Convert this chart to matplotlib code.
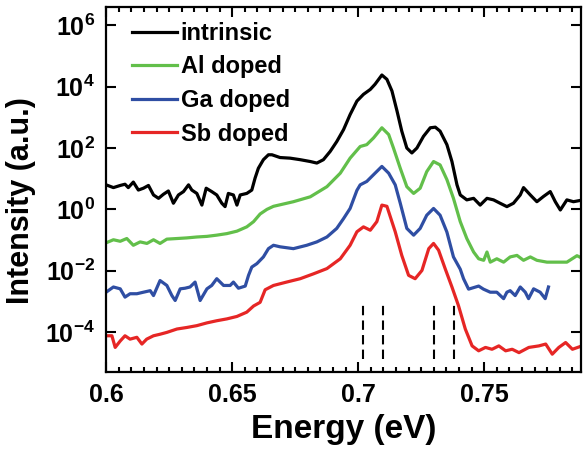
import numpy as np
import matplotlib
matplotlib.use("Agg")
import matplotlib.pyplot as plt
from matplotlib.ticker import FixedLocator, LogFormatterMathtext, MultipleLocator, NullLocator

plt.rcParams["font.family"] = ["Liberation Sans", "DejaVu Sans"]
plt.rcParams["font.weight"] = "bold"
plt.rcParams["mathtext.fontset"] = "custom"
plt.rcParams["mathtext.rm"] = "Liberation Sans:bold"
plt.rcParams["mathtext.bf"] = "Liberation Sans:bold"
plt.rcParams["mathtext.it"] = "Liberation Sans:bold"

# energies (eV) and log10 intensities
intrinsic_e = [0.6000, 0.6029, 0.6056, 0.6075, 0.6088, 0.6108, 0.6128, 0.6148, 0.6168, 0.6188,
               0.6208, 0.6227, 0.6247, 0.6267, 0.6287, 0.6307, 0.6327, 0.6340, 0.6360, 0.6380,
               0.6397, 0.6419, 0.6439, 0.6459, 0.6472, 0.6485, 0.6505, 0.6519, 0.6532, 0.6558,
               0.6578, 0.6591, 0.6604, 0.6624, 0.6644, 0.6658, 0.6690, 0.6730, 0.6770, 0.6810,
               0.6836, 0.6862, 0.6889, 0.6915, 0.6942, 0.6968, 0.6995, 0.7021, 0.7048, 0.7067,
               0.7094, 0.7114, 0.7134, 0.7154, 0.7173, 0.7193, 0.7213, 0.7233, 0.7259, 0.7286,
               0.7306, 0.7325, 0.7352, 0.7372, 0.7392, 0.7405, 0.7431, 0.7458, 0.7484, 0.7511,
               0.7537, 0.7563, 0.7590, 0.7616, 0.7643, 0.7656, 0.7683, 0.7709, 0.7735, 0.7762,
               0.7782, 0.7802, 0.7828, 0.7854, 0.7893]
intrinsic_log = [0.80, 0.71, 0.78, 0.82, 0.71, 0.89, 0.63, 0.69, 0.78, 0.47,
                 0.36, 0.49, 0.60, 0.20, 0.47, 0.58, 0.80, 0.63, 0.52, 0.14,
                 0.69, 0.58, 0.47, 0.20, 0.09, 0.52, 0.47, 0.14, 0.47, 0.52,
                 0.63, 1.02, 1.34, 1.62, 1.78, 1.78, 1.69, 1.67, 1.62, 1.56,
                 1.51, 1.62, 1.89, 2.21, 2.60, 3.09, 3.53, 3.75, 3.91, 4.08,
                 4.38, 4.24, 3.86, 3.21, 2.55, 2.00, 1.84, 2.00, 2.38, 2.66,
                 2.68, 2.55, 2.11, 1.56, 0.80, 0.47, 0.31, 0.36, 0.14, 0.36,
                 0.31, 0.20, 0.09, 0.20, 0.47, 0.71, 0.47, 0.25, 0.42, 0.58,
                 0.25, -0.02, 0.31, 0.25, 0.31]

al_e = [0.6000, 0.6029, 0.6056, 0.6082, 0.6108, 0.6135, 0.6162, 0.6188, 0.6214, 0.6241,
        0.6281, 0.6320, 0.6360, 0.6400, 0.6439, 0.6479, 0.6519, 0.6558, 0.6585, 0.6611,
        0.6638, 0.6664, 0.6743, 0.6810, 0.6876, 0.6929, 0.6968, 0.7008, 0.7034, 0.7061,
        0.7094, 0.7121, 0.7140, 0.7167, 0.7193, 0.7220, 0.7246, 0.7272, 0.7299, 0.7325,
        0.7352, 0.7378, 0.7405, 0.7431, 0.7458, 0.7478, 0.7498, 0.7511, 0.7524, 0.7550,
        0.7577, 0.7603, 0.7630, 0.7656, 0.7683, 0.7709, 0.7749, 0.7788, 0.7828, 0.7868,
        0.7893]
al_log = [-1.09, -0.99, -1.04, -0.95, -1.17, -1.06, -1.11, -0.99, -1.11, -0.97,
          -0.95, -0.93, -0.90, -0.88, -0.84, -0.79, -0.71, -0.57, -0.40, -0.15,
          0.00, 0.10, 0.25, 0.41, 0.74, 1.18, 1.67, 2.05, 2.11, 2.33,
          2.66, 2.44, 2.00, 1.34, 0.74, 0.52, 0.69, 1.23, 1.56, 1.45,
          0.97, 0.36, -0.40, -0.95, -1.39, -1.61, -1.66, -1.39, -1.72, -1.61,
          -1.72, -1.55, -1.50, -1.66, -1.55, -1.66, -1.72, -1.72, -1.72, -1.51,
          -1.61]

ga_e = [0.6000, 0.6029, 0.6056, 0.6075, 0.6095, 0.6122, 0.6148, 0.6175, 0.6188, 0.6214,
        0.6241, 0.6261, 0.6274, 0.6294, 0.6313, 0.6333, 0.6353, 0.6373, 0.6400, 0.6419,
        0.6439, 0.6466, 0.6492, 0.6505, 0.6525, 0.6552, 0.6565, 0.6578, 0.6598, 0.6624,
        0.6644, 0.6664, 0.6690, 0.6743, 0.6796, 0.6836, 0.6876, 0.6915, 0.6942, 0.6968,
        0.6995, 0.7008, 0.7034, 0.7067, 0.7094, 0.7121, 0.7147, 0.7167, 0.7193, 0.7220,
        0.7246, 0.7272, 0.7299, 0.7325, 0.7352, 0.7378, 0.7405, 0.7418, 0.7438, 0.7458,
        0.7478, 0.7497, 0.7524, 0.7550, 0.7577, 0.7590, 0.7603, 0.7623, 0.7643, 0.7663,
        0.7676, 0.7696, 0.7722, 0.7742, 0.7755]
ga_log = [-2.70, -2.53, -2.59, -2.86, -2.75, -2.75, -2.70, -2.65, -2.81, -2.32,
          -2.48, -2.81, -2.97, -2.59, -2.57, -2.53, -2.37, -2.97, -2.59, -2.48,
          -2.26, -2.48, -2.48, -2.37, -2.57, -2.50, -2.15, -1.88, -1.77, -1.55,
          -1.28, -1.17, -1.22, -1.28, -1.17, -1.06, -0.90, -0.62, -0.30, 0.03,
          0.62, 0.80, 0.91, 1.18, 1.40, 1.18, 0.80, 0.20, -0.62, -0.84,
          -0.62, -0.19, 0.03, -0.19, -0.74, -1.55, -1.95, -2.26, -2.60, -2.55,
          -2.50, -2.60, -2.70, -2.70, -2.91, -2.70, -2.65, -2.81, -2.53, -2.70,
          -2.91, -2.59, -2.70, -2.91, -2.53]

sb_e = [0.6000, 0.6023, 0.6036, 0.6056, 0.6075, 0.6095, 0.6122, 0.6142, 0.6161, 0.6188,
        0.6214, 0.6241, 0.6281, 0.6320, 0.6360, 0.6400, 0.6439, 0.6479, 0.6519, 0.6558,
        0.6585, 0.6611, 0.6631, 0.6664, 0.6716, 0.6770, 0.6823, 0.6876, 0.6929, 0.6968,
        0.6995, 0.7021, 0.7048, 0.7074, 0.7094, 0.7114, 0.7147, 0.7173, 0.7200, 0.7226,
        0.7253, 0.7280, 0.7299, 0.7319, 0.7345, 0.7372, 0.7398, 0.7425, 0.7452, 0.7478,
        0.7505, 0.7531, 0.7558, 0.7585, 0.7611, 0.7638, 0.7677, 0.7717, 0.7744, 0.7770,
        0.7796, 0.7823, 0.7850, 0.7888]
sb_log = [-4.12, -4.12, -4.50, -4.29, -4.12, -4.23, -4.17, -4.39, -4.23, -4.12,
          -4.07, -4.01, -3.90, -3.85, -3.79, -3.70, -3.63, -3.57, -3.49, -3.35,
          -3.15, -3.03, -2.62, -2.48, -2.37, -2.26, -2.10, -1.93, -1.61, -1.17,
          -0.73, -0.57, -0.68, -0.40, 0.14, 0.10, -0.73, -1.50, -2.15, -2.26,
          -1.99, -1.28, -1.11, -1.33, -1.93, -2.53, -3.14, -3.90, -4.45, -4.61,
          -4.50, -4.56, -4.45, -4.61, -4.56, -4.67, -4.50, -4.45, -4.39, -4.72,
          -4.50, -4.34, -4.56, -4.45]

series = ["intrinsic", "Al doped", "Ga doped", "Sb doped"]
colors = ["#000000", "#62bf4a", "#2f4ea3", "#e62625"]

marker_e = [0.702, 0.710, 0.730, 0.738]
marker_lo, marker_hi = 1.3e-5, 1e-3

x_ticks = [0.6, 0.65, 0.7, 0.75]
x_labels = ["0.6", "0.65", "0.7", "0.75"]
y_ticks = [1e-4, 1e-2, 1e0, 1e2, 1e4, 1e6]

fig = plt.figure(figsize=(5.83, 4.57), dpi=100)
ax = fig.add_axes([0.182, 0.186, 0.815, 0.799])

data = [(intrinsic_e, intrinsic_log), (al_e, al_log), (ga_e, ga_log), (sb_e, sb_log)]
for (e, lg), name, c in zip(data, series, colors):
    ax.plot(e, np.power(10.0, lg), color=c, lw=2.3, label=name)

for e in marker_e:
    ax.plot([e, e], [marker_lo, marker_hi], color="black", lw=1.5, ls=(0, (4.5, 2.5)))

ax.set_yscale("log")
ax.set_xlim(0.6, 0.7885)
ax.set_ylim(5e-6, 4e6)

ax.set_xticks(x_ticks)
ax.set_xticklabels(x_labels)
ax.xaxis.set_minor_locator(MultipleLocator(0.005))
ax.yaxis.set_major_locator(FixedLocator(y_ticks))
ax.yaxis.set_minor_locator(NullLocator())
ax.yaxis.set_major_formatter(LogFormatterMathtext(base=10.0))

ax.tick_params(which="both", direction="in", top=True, right=True, width=1.5)
ax.tick_params(which="major", length=7, labelsize=18, pad=8)
ax.tick_params(which="minor", length=3.5)
for s in ax.spines.values():
    s.set_linewidth(1.6)

ax.set_xlabel("Energy (eV)", fontsize=24, fontweight="bold", labelpad=5)
ax.set_ylabel("Intensity (a.u.)", fontsize=22, fontweight="bold")
ax.yaxis.set_label_coords(-0.148, 0.47)

ax.legend(loc="upper left", bbox_to_anchor=(0.055, 0.959), frameon=False,
          fontsize=17, handlelength=1.9, handletextpad=0.15, labelspacing=0.45,
          borderpad=0, borderaxespad=0)

fig.savefig("out.png", dpi=100)
